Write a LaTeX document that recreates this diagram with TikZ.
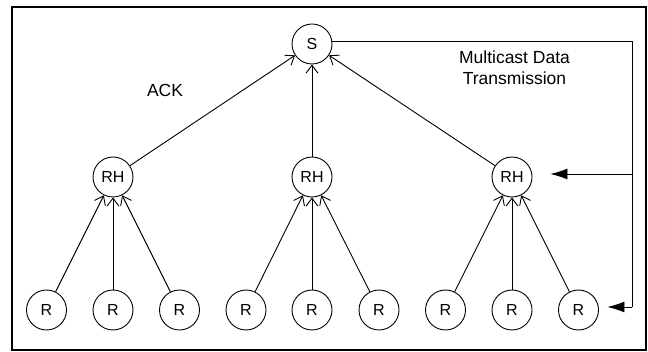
\documentclass[tikz,border=0pt]{standalone}
\usepackage{fontspec}
\setmainfont{Liberation Sans}
\usepackage{tikz}
\usetikzlibrary{positioning}
\usetikzlibrary{arrows.meta}

\tikzset{
  host/.style={draw, black, line width=0.9pt, circle, minimum size=40pt, inner sep=0pt, font=\fontsize{16}{18}\selectfont},
  ack/.style={black, line width=0.9pt, -{Straight Barb[length=8pt, width=12pt]}},
  mcast/.style={black, line width=0.9pt, -{Latex[length=17pt, width=11pt]}},
  lbl/.style={font=\fontsize{17.5}{21}\selectfont, align=center}
}

\begin{document}
\begin{tikzpicture}[x=1pt, y=-1pt]
\useasboundingbox (0,0) rectangle (648,352);
%frame
\draw[black, line width=1.4pt] (12,7) rectangle (646,350);

%nodes
\node[host] (s) at (312,44) {S};
\node[host] (rh1) at (113,177) {RH};
\node[host] (rh2) at (312,177) {RH};
\node[host] (rh3) at (512,177) {RH};

\node[host] (r1) at (46.5,310) {R};
\node[host] (r2) at (113,310) {R};
\node[host] (r3) at (179.5,310) {R};
\node[host] (r4) at (246,310) {R};
\node[host] (r5) at (312,310) {R};
\node[host] (r6) at (379,310) {R};
\node[host] (r7) at (445.5,310) {R};
\node[host] (r8) at (512,310) {R};
\node[host] (r9) at (578.5,310) {R};

%ack
\draw[ack] (rh1) -- (s);
\draw[ack] (rh2) -- (s);
\draw[ack] (rh3) -- (s);
\draw[ack] (r1) -- (rh1);
\draw[ack] (r2) -- (rh1);
\draw[ack] (r3) -- (rh1);
\draw[ack] (r4) -- (rh2);
\draw[ack] (r5) -- (rh2);
\draw[ack] (r6) -- (rh2);
\draw[ack] (r7) -- (rh3);
\draw[ack] (r8) -- (rh3);
\draw[ack] (r9) -- (rh3);

%multicast
\coordinate (mctop) at (632,41);
\coordinate (mcrh) at (632,174);
\coordinate (mcbot) at (632,307);
\draw[black, line width=0.9pt] ([yshift=3pt]s.east) -- (mctop) -- (mcbot);
\draw[mcast] (mcbot) -- ([xshift=8.5pt, yshift=3pt]r9.east);
\draw[mcast] (mcrh) -- ([xshift=18pt, yshift=3pt]rh3.east);

%labels
\node[lbl] (acklbl) at (165,90) {ACK};
\node[lbl] (mclbl) at (514.5,68) {Multicast Data\\Transmission};

\end{tikzpicture}
\end{document}
